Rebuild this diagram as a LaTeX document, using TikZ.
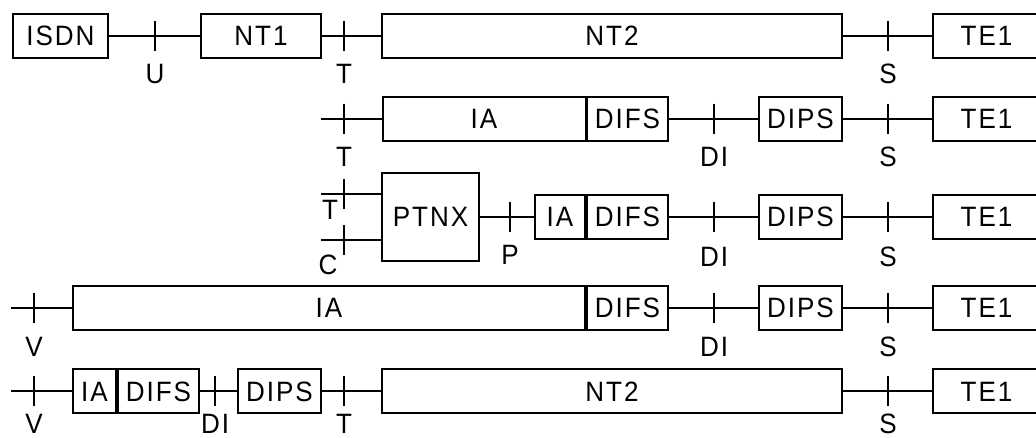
\documentclass[tikz,border=0pt]{standalone}
\usepackage{fontspec}
\setmainfont{Liberation Sans}
\newfontfamily\labfont[FakeStretch=0.93,LetterSpace=7]{Liberation Sans}
\newcommand\tkmark[5]{%
  \coordinate (#1) at (#2,#3);
  \draw[tick] ([yshift=15pt]#1) -- ([yshift=-15pt]#1);
  \node[lbl] (l#1) at (#2,#5) {#4};}
\begin{document}
\begin{tikzpicture}[x=1pt,y=-1pt,
  txt/.style={font=\labfont\fontsize{28}{28}\selectfont, text height=20pt, text depth=0pt},
  box/.style={draw, line width=2pt, minimum height=44pt, inner sep=0pt, txt},
  wire/.style={line width=2pt},
  tick/.style={line width=2pt},
  lbl/.style={inner sep=0pt, txt}]
\useasboundingbox (0,0) rectangle (1036,438);

% ---------- Row 1 ----------
\node[box, minimum width=95pt]  (isdn) at (60.5,36) {ISDN};
\node[box, minimum width=120pt] (nt1)  at (261,36) {NT1};
\node[box, minimum width=460pt] (nt2a) at (612,36) {NT2};
\node[box, minimum width=107pt] (te1a) at (986.5,36) {TE1};
\draw[wire] (isdn.east) -- (nt1.west);
\draw[wire] (nt1.east) -- (nt2a.west);
\draw[wire] (nt2a.east) -- (te1a.west);
\tkmark{tU1}{155}{36}{U}{74}
\tkmark{tT1}{344}{36}{T}{74}
\tkmark{tS1}{888}{36}{S}{74}

% ---------- Row 2 ----------
\coordinate (st2) at (321,119);
\node[box, minimum width=203pt] (ia2)   at (484,119) {IA};
\node[box, minimum width=81pt]  (difs2) at (627.5,119) {DIFS};
\node[box, minimum width=83pt]  (dips2) at (800.5,119) {DIPS};
\node[box, minimum width=107pt] (te1b)  at (986.5,119) {TE1};
\draw[wire] (st2) -- (ia2.west);
\draw[wire] (difs2.east) -- (dips2.west);
\draw[wire] (dips2.east) -- (te1b.west);
\tkmark{tT2}{344}{119}{T}{157}
\tkmark{tD2}{714}{119}{DI}{157}
\tkmark{tS2}{888}{119}{S}{157}

% ---------- Row 3 ----------
\node[box, minimum width=97pt, minimum height=88pt] (ptnx) at (430.5,217) {PTNX};
\node[box, minimum width=50pt]  (ia3)   at (560,217) {IA};
\node[box, minimum width=81pt]  (difs3) at (627.5,217) {DIFS};
\node[box, minimum width=83pt]  (dips3) at (800.5,217) {DIPS};
\node[box, minimum width=107pt] (te1c)  at (986.5,217) {TE1};
\coordinate (stT3) at (321,194);
\coordinate (stC3) at (321,240);
\draw[wire] (stT3) -- (stT3 -| ptnx.west);
\draw[wire] (stC3) -- (stC3 -| ptnx.west);
\draw[wire] (ptnx.east) -- (ia3.west);
\draw[wire] (difs3.east) -- (dips3.west);
\draw[wire] (dips3.east) -- (te1c.west);
\coordinate (tT3) at (344,194);
\draw[tick] ([yshift=15pt]tT3) -- ([yshift=-15pt]tT3);
\node[lbl] (ltT3) at (330,210) {T};
\coordinate (tC3) at (344,240);
\draw[tick] ([yshift=15pt]tC3) -- ([yshift=-15pt]tC3);
\node[lbl] (ltC3) at (328,265) {C};
\tkmark{tP3}{510}{217}{P}{255}
\tkmark{tD3}{714}{217}{DI}{257}
\tkmark{tS3}{888}{217}{S}{257}

% ---------- Row 4 ----------
\coordinate (st4) at (11,308);
\node[box, minimum width=512pt] (ia4)   at (329,308) {IA};
\node[box, minimum width=81pt]  (difs4) at (627.5,308) {DIFS};
\node[box, minimum width=83pt]  (dips4) at (800.5,308) {DIPS};
\node[box, minimum width=107pt] (te1d)  at (986.5,308) {TE1};
\draw[wire] (st4) -- (ia4.west);
\draw[wire] (difs4.east) -- (dips4.west);
\draw[wire] (dips4.east) -- (te1d.west);
\tkmark{tV4}{34}{308}{V}{346}
\tkmark{tD4}{714}{308}{DI}{346}
\tkmark{tS4}{888}{308}{S}{346}

% ---------- Row 5 ----------
\coordinate (st5) at (11,391);
\node[box, minimum width=43pt]  (ia5)   at (94.5,391) {IA};
\node[box, minimum width=81pt]  (difs5) at (158.5,391) {DIFS};
\node[box, minimum width=83pt]  (dips5) at (279.5,391) {DIPS};
\node[box, minimum width=460pt] (nt2b)  at (612,391) {NT2};
\node[box, minimum width=107pt] (te1e)  at (986.5,391) {TE1};
\draw[wire] (st5) -- (ia5.west);
\draw[wire] (difs5.east) -- (dips5.west);
\draw[wire] (dips5.east) -- (nt2b.west);
\draw[wire] (nt2b.east) -- (te1e.west);
\tkmark{tV5}{34}{391}{V}{423}
\tkmark{tD5}{215}{391}{DI}{423}
\tkmark{tT5}{344}{391}{T}{423}
\tkmark{tS5}{888}{391}{S}{423}
\end{tikzpicture}
\end{document}
